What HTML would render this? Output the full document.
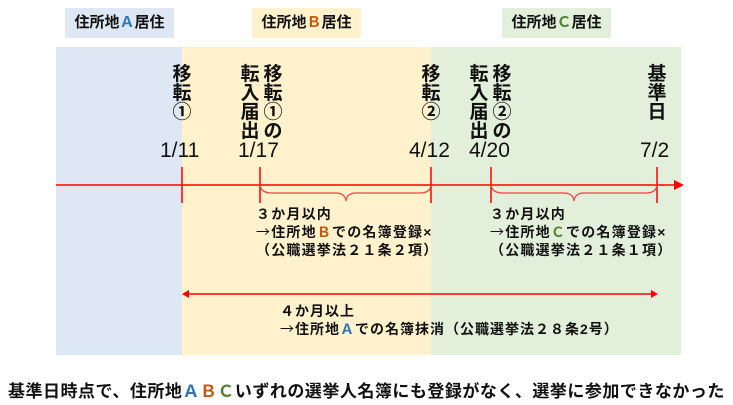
<!DOCTYPE html>
<html><head><meta charset="utf-8"><style>
body{margin:0;width:733px;height:405px;background:#fff;position:relative;overflow:hidden;font-family:"Liberation Sans","Noto Sans CJK JP",sans-serif;font-weight:bold;color:#111}
.a{position:absolute}
.lbl{position:absolute;top:8px;height:30px;line-height:30px;text-align:center;font-size:15px}
.v{position:absolute;font-size:19px;line-height:19px;width:20px;text-align:center;top:65px}
.d{position:absolute;top:139px;font-size:21px;font-weight:normal}
.t{position:absolute;font-size:14px;line-height:18px;white-space:nowrap;letter-spacing:1.2px}
.ar{font-family:"Noto Sans CJK JP",sans-serif;font-weight:normal}
.A{color:#2e75b6}.B{color:#c55a11}.C{color:#548235}
</style></head><body>
<div class="a" style="left:56px;top:47px;width:126px;height:308px;background:#dee8f4"></div>
<div class="a" style="left:182px;top:47px;width:249px;height:308px;background:#fff2cc"></div>
<div class="a" style="left:431px;top:47px;width:250px;height:308px;background:#e2efda"></div>
<div class="lbl" style="left:65px;width:109px;background:#dee8f4">住所地<span class="A">Ａ</span>居住</div>
<div class="lbl" style="left:252px;width:109px;background:#fff2cc">住所地<span class="B">Ｂ</span>居住</div>
<div class="lbl" style="left:502px;width:109px;background:#e2efda">住所地<span class="C">Ｃ</span>居住</div>
<div class="v" style="left:172px">移<br>転<br>①</div>
<div class="v" style="left:240px">転<br>入<br>届<br>出</div>
<div class="v" style="left:263px">移<br>転<br>①<br>の</div>
<div class="v" style="left:421px">移<br>転<br>②</div>
<div class="v" style="left:469px">転<br>入<br>届<br>出</div>
<div class="v" style="left:492px">移<br>転<br>②<br>の</div>
<div class="v" style="left:647px">基<br>準<br>日</div>
<div class="d" style="left:160px">1/11</div>
<div class="d" style="left:238px">1/17</div>
<div class="d" style="left:409px">4/12</div>
<div class="d" style="left:469px">4/20</div>
<div class="d" style="left:640px">7/2</div>
<svg class="a" style="left:0;top:0" width="733" height="405">
<g stroke="#ff0000" stroke-width="1.5" fill="none">
<line x1="56" y1="185" x2="678" y2="185"/>
<line x1="182" y1="167" x2="182" y2="203"/>
<line x1="260" y1="167" x2="260" y2="203"/>
<line x1="431" y1="167" x2="431" y2="203"/>
<line x1="491" y1="167" x2="491" y2="203"/>
<line x1="657" y1="167" x2="657" y2="203"/>
<path d="M260 185 Q261 193 272 193 L336 193 Q345 193 346 201 Q347 193 356 193 L420 193 Q430 193 431 185" stroke-width="1.2" stroke="#ee4444"/>
<path d="M491 185 Q492 193 503 193 L564 193 Q573 193 574 201 Q575 193 584 193 L646 193 Q656 193 657 185" stroke-width="1.2" stroke="#ee4444"/>
<line x1="186" y1="294" x2="654" y2="294"/>
</g>
<polygon points="684,185 674,180 674,190" fill="#ff0000"/>
<polygon points="182,294 189,290 189,298" fill="#ff0000"/>
<polygon points="658,294 651,290 651,298" fill="#ff0000"/>
</svg>
<div class="t" style="left:256px;top:205px">３か月以内<br><span class="ar">→</span>住所地<span class="B">Ｂ</span>での名簿登録×<br>（公職選挙法２１条２項）</div>
<div class="t" style="left:490px;top:205px">３か月以内<br><span class="ar">→</span>住所地<span class="C">Ｃ</span>での名簿登録×<br>（公職選挙法２１条１項）</div>
<div class="t" style="left:280px;top:302px;letter-spacing:1px">４か月以上<br><span class="ar">→</span>住所地<span class="A">Ａ</span>での名簿抹消（公職選挙法２８条2号）</div>
<div class="a" style="left:8px;top:377px;font-size:17px;white-space:nowrap;letter-spacing:0.5px">基準日時点で、住所地<span class="A">Ａ</span><span class="B">Ｂ</span><span class="C">Ｃ</span>いずれの選挙人名簿にも登録がなく、選挙に参加できなかった</div>
</body></html>
